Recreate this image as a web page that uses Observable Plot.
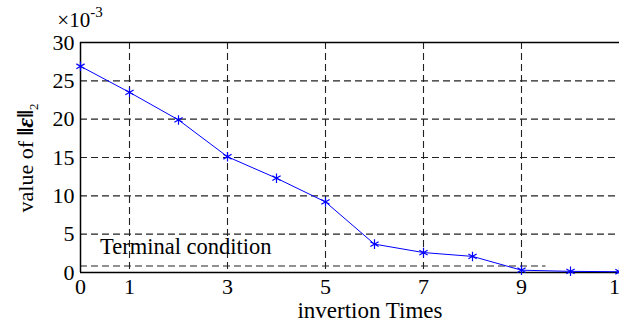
<!DOCTYPE html>
<html>
<head>
<meta charset="utf-8">
<script src="https://cdn.jsdelivr.net/npm/d3@7"></script>
<script src="https://cdn.jsdelivr.net/npm/@observablehq/plot@0.6"></script>
<style>
  html, body { margin: 0; padding: 0; background: white; overflow: hidden; }
  svg { display: block; }
</style>
</head>
<body>
<div id="chart"></div>
<script>
// Data (values in units of 1e-3)
const iterations = [0, 1, 2, 3, 4, 5, 6, 7, 8, 9, 10, 11];
const errNorm = [26.9, 23.5, 19.9, 15.1, 12.3, 9.2, 3.7, 2.6, 2.1, 0.3, 0.15, 0.1];
const xTicks = [0, 1, 3, 5, 7, 9, 11];
const yTicks = [0, 5, 10, 15, 20, 25, 30];
const xGrid = [1, 3, 5, 7, 9];
const yGrid = [5, 10, 15, 20, 25];
const terminalValue = 0.85;
const terminalEnd = 9.5;
const terminalLabel = "Terminal condition";
const labelPos = {x: 0.4, y: 3.3};

const data = iterations.map((x, i) => ({x, y: errNorm[i]}));
const font = "Liberation Serif, Times New Roman, serif";

const plot = Plot.plot({
  width: 619,
  height: 326,
  marginLeft: 80,
  marginRight: 0,
  marginTop: 42,
  marginBottom: 54,
  style: {fontFamily: font, fontSize: "22px", color: "black", background: "white", overflow: "hidden"},
  x: {domain: [0, 11], ticks: xTicks, tickSize: 0, tickPadding: 6, label: null},
  y: {domain: [0, 30], ticks: yTicks, tickSize: 0, tickPadding: 6, label: null},
  marks: [
    Plot.ruleY(yGrid, {stroke: "#222", strokeDasharray: "7,4", strokeWidth: 1.1}),
    Plot.ruleX(xGrid, {stroke: "#222", strokeDasharray: "7,4", strokeWidth: 1.1}),
    Plot.ruleY([{y: terminalValue, x1: 0, x2: terminalEnd}], {y: "y", x1: "x1", x2: "x2", stroke: "#222", strokeDasharray: "7,4", strokeWidth: 1.1}),
    Plot.text([labelPos], {x: "x", y: "y", text: () => terminalLabel, textAnchor: "start", fontSize: 22.5, fill: "black"}),
    Plot.ruleX([0], {stroke: "black", strokeWidth: 1.5}),
    Plot.ruleY([0, 30], {stroke: "black", strokeWidth: 1.5}),
    Plot.line(data, {x: "x", y: "y", stroke: "blue", strokeWidth: 1}),
    Plot.dot(data, {x: "x", y: "y", symbol: "asterisk", stroke: "blue", r: 4.5, strokeWidth: 1.2})
  ]
});

document.getElementById("chart").appendChild(plot);
const svg = d3.select(plot);

// exponent label
const exp = svg.append("text")
  .attr("x", 80).attr("y", 27)
  .attr("font-family", font).attr("font-size", 21).attr("fill", "black");
exp.append("tspan").text("×10");
exp.append("tspan").attr("dy", -10).attr("font-size", 15).text("-3");

// x-axis label
svg.append("text")
  .attr("x", 370).attr("y", 318)
  .attr("text-anchor", "middle")
  .attr("font-family", font).attr("font-size", 23).attr("fill", "black")
  .text("invertion Times");

// y-axis label
const yl = svg.append("text")
  .attr("transform", "translate(33,158) rotate(-90)")
  .attr("text-anchor", "middle")
  .attr("font-family", font).attr("font-size", 22).attr("fill", "black");
yl.append("tspan").text("value of ");
yl.append("tspan").attr("font-weight", "bold").attr("font-size", 24).text("‖");
yl.append("tspan").attr("font-weight", "bold").attr("font-style", "italic").attr("font-size", 24).text("ε");
yl.append("tspan").attr("font-weight", "bold").attr("font-size", 24).text("‖");
yl.append("tspan").attr("font-size", 13).attr("dy", 5).text("2");
</script>
</body>
</html>
